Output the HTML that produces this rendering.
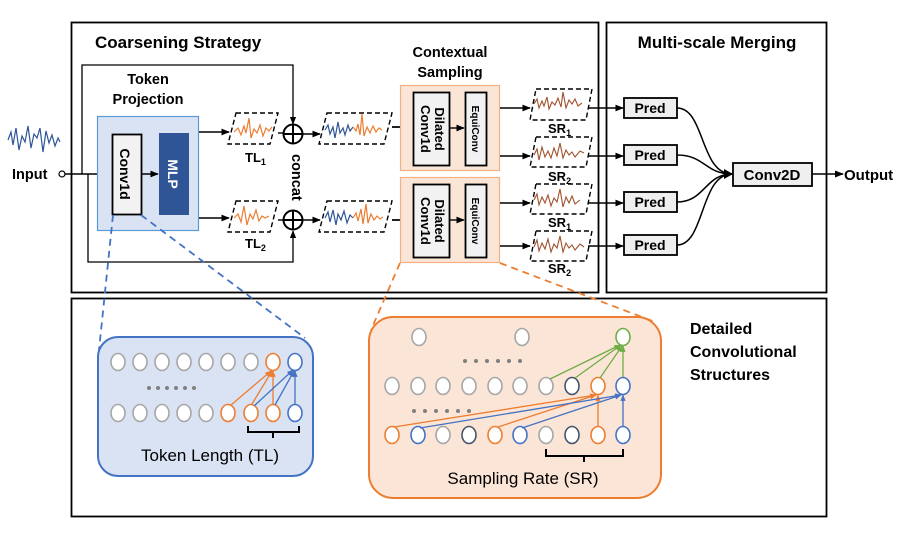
<!DOCTYPE html>
<html><head><meta charset="utf-8"><style>
html,body{margin:0;padding:0;background:#fff}
svg{display:block}
text{font-family:"Liberation Sans",Arial,sans-serif}
</style></head><body>
<svg width="914" height="533" viewBox="0 0 914 533" xmlns="http://www.w3.org/2000/svg">
<defs>
<marker id="a" viewBox="0 0 10 10" refX="9" refY="5" markerWidth="6" markerHeight="6" orient="auto"><path d="M0,1 L10,5 L0,9 z" fill="#000"/></marker>
<marker id="ao" viewBox="0 0 10 10" refX="9" refY="5" markerWidth="5" markerHeight="5" orient="auto"><path d="M0,1 L10,5 L0,9 z" fill="#ed7d31"/></marker>
<marker id="ab" viewBox="0 0 10 10" refX="9" refY="5" markerWidth="5" markerHeight="5" orient="auto"><path d="M0,1 L10,5 L0,9 z" fill="#4472c4"/></marker>
<marker id="ag" viewBox="0 0 10 10" refX="9" refY="5" markerWidth="5" markerHeight="5" orient="auto"><path d="M0,1 L10,5 L0,9 z" fill="#70ad47"/></marker>
</defs>
<!-- outer boxes -->
<rect x="71.5" y="22.5" width="527" height="270" fill="none" stroke="#000" stroke-width="1.8"/>
<rect x="606.5" y="22.5" width="220" height="270" fill="none" stroke="#000" stroke-width="1.8"/>
<rect x="71.5" y="298.5" width="755" height="218" fill="none" stroke="#000" stroke-width="1.8"/>
<text x="95" y="48" font-size="17" font-weight="bold">Coarsening Strategy</text>
<text x="717" y="48" font-size="17" font-weight="bold" text-anchor="middle">Multi-scale Merging</text>
<text x="148" y="84" font-size="14.5" font-weight="bold" text-anchor="middle">Token</text>
<text x="148" y="104" font-size="14.5" font-weight="bold" text-anchor="middle">Projection</text>
<text x="450" y="57" font-size="14.5" font-weight="bold" text-anchor="middle">Contextual</text>
<text x="450" y="77" font-size="14.5" font-weight="bold" text-anchor="middle">Sampling</text>
<!-- input -->
<polyline points="8,140 11,132 13,145 16,128 19,150 22,136 25,142 28,126 31,148 34,134 37,138 40,128 43,152 46,131 49,143 52,135 55,146 58,138 60,142" fill="none" stroke="#2f5597" stroke-width="1.2"/>
<text x="12" y="179" font-size="14.5" font-weight="bold">Input</text>
<circle cx="62" cy="174" r="3" fill="#fff" stroke="#000" stroke-width="1.2"/>
<line x1="65" y1="174" x2="111" y2="174" stroke="#000" stroke-width="1.5" marker-end="url(#a)"/>
<polyline points="82,174 82,65 293,65 293,124" fill="none" stroke="#000" stroke-width="1.3" marker-end="url(#a)"/>
<polyline points="88,174 88,262 293,262 293,231" fill="none" stroke="#000" stroke-width="1.3" marker-end="url(#a)"/>
<!-- token projection -->
<rect x="97.5" y="116.5" width="101" height="114" fill="#dae3f3" stroke="#5b9bd5" stroke-width="1.2"/>
<rect x="112.5" y="134.5" width="29" height="80" fill="#f2f2f2" stroke="#000" stroke-width="1.8"/>
<text transform="translate(120,174) rotate(90)" font-size="14" font-weight="bold" text-anchor="middle">Conv1d</text>
<rect x="159" y="133" width="30" height="82" fill="#2f5597"/>
<text transform="translate(168,174) rotate(90)" font-size="14" font-weight="bold" text-anchor="middle" fill="#fff">MLP</text>
<line x1="141" y1="174" x2="158" y2="174" stroke="#000" stroke-width="1.4" marker-end="url(#a)"/>
<line x1="199" y1="132" x2="229" y2="132" stroke="#000" stroke-width="1.4" marker-end="url(#a)"/>
<line x1="199" y1="218" x2="229" y2="218" stroke="#000" stroke-width="1.4" marker-end="url(#a)"/>
<!-- TL paras -->
<polygon points="236,113 278,113 270,144 228,144" fill="none" stroke="#000" stroke-width="1.4" stroke-dasharray="5,3"/>
<polyline points="234,132 238,128 241,135 244,126 246,133 249,118 251,138 254,129 257,133 260,125 263,136 266,128 269,131 272,127" fill="none" stroke="#ed7d31" stroke-width="1.2"/>
<polygon points="236,201 278,201 270,232 228,232" fill="none" stroke="#000" stroke-width="1.4" stroke-dasharray="5,3"/>
<polyline points="234,218 238,214 241,222 244,206 247,225 250,214 253,219 256,210 259,221 262,216 265,218 269,216" fill="none" stroke="#ed7d31" stroke-width="1.2"/>
<text x="245" y="162" font-size="13" font-weight="bold">TL<tspan font-size="9" dy="3">1</tspan></text>
<text x="245" y="248" font-size="13" font-weight="bold">TL<tspan font-size="9" dy="3">2</tspan></text>
<line x1="278" y1="133" x2="283" y2="133" stroke="#000" stroke-width="1.4"/>
<line x1="278" y1="220" x2="283" y2="220" stroke="#000" stroke-width="1.4"/>
<g stroke="#000" stroke-width="2" fill="#fff">
<circle cx="293" cy="134" r="9.5"/><path d="M283.5,134 H302.5 M293,124.5 V143.5"/>
<circle cx="293" cy="220" r="9.5"/><path d="M283.5,220 H302.5 M293,210.5 V229.5"/>
</g>
<text transform="translate(292,154) rotate(90)" font-size="14.5" font-weight="bold">concat</text>
<line x1="303" y1="134" x2="320" y2="134" stroke="#000" stroke-width="1.4" marker-end="url(#a)"/>
<line x1="303" y1="220" x2="320" y2="220" stroke="#000" stroke-width="1.4" marker-end="url(#a)"/>
<polygon points="327,113 392,113 384,144 319,144" fill="none" stroke="#000" stroke-width="1.4" stroke-dasharray="5,3"/>
<polyline points="325,130 328,125 330,134 333,127 335,138 338,122 340,133 343,128 345,135 348,125 350,131 353,127" fill="none" stroke="#2f5597" stroke-width="1.2"/>
<polyline points="353,127 356,131 358,124 360,135 362,114 364,136 367,127 370,133 373,126 376,132 379,128 382,130" fill="none" stroke="#ed7d31" stroke-width="1.2"/>
<polygon points="327,201 392,201 384,232 319,232" fill="none" stroke="#000" stroke-width="1.4" stroke-dasharray="5,3"/>
<polyline points="325,218 328,212 330,222 333,210 336,225 338,214 341,220 344,211 347,223 350,215 353,218" fill="none" stroke="#2f5597" stroke-width="1.2"/>
<polyline points="353,218 356,213 358,221 361,209 363,224 366,204 368,223 371,214 374,220 377,216 380,219 383,217" fill="none" stroke="#ed7d31" stroke-width="1.2"/>
<line x1="392" y1="127" x2="413" y2="127" stroke="#000" stroke-width="1.8" marker-end="url(#a)"/>
<line x1="392" y1="220" x2="413" y2="220" stroke="#000" stroke-width="1.8" marker-end="url(#a)"/>
<!-- contextual sampling -->
<g>
<rect x="400.5" y="85.5" width="99" height="85" fill="#fbe5d6" stroke="#f4b183" stroke-width="1.2"/>
<rect x="413.5" y="92.5" width="36" height="73" fill="#f2f2f2" stroke="#000" stroke-width="1.8"/>
<text transform="translate(435,129) rotate(90)" font-size="13" font-weight="bold" text-anchor="middle">Dilated</text>
<text transform="translate(421,129) rotate(90)" font-size="13" font-weight="bold" text-anchor="middle">Conv1d</text>
<rect x="465.5" y="92.5" width="21" height="73" fill="#f2f2f2" stroke="#000" stroke-width="1.8"/>
<text transform="translate(472,129) rotate(90)" font-size="10" font-weight="bold" text-anchor="middle">EquiConv</text>
<line x1="450" y1="128" x2="464" y2="128" stroke="#000" stroke-width="1.4" marker-end="url(#a)"/>
</g>
<g>
<rect x="400.5" y="177.5" width="99" height="85" fill="#fbe5d6" stroke="#f4b183" stroke-width="1.2"/>
<rect x="413.5" y="184.5" width="36" height="73" fill="#f2f2f2" stroke="#000" stroke-width="1.8"/>
<text transform="translate(435,221) rotate(90)" font-size="13" font-weight="bold" text-anchor="middle">Dilated</text>
<text transform="translate(421,221) rotate(90)" font-size="13" font-weight="bold" text-anchor="middle">Conv1d</text>
<rect x="465.5" y="184.5" width="21" height="73" fill="#f2f2f2" stroke="#000" stroke-width="1.8"/>
<text transform="translate(472,221) rotate(90)" font-size="10" font-weight="bold" text-anchor="middle">EquiConv</text>
<line x1="450" y1="220" x2="464" y2="220" stroke="#000" stroke-width="1.4" marker-end="url(#a)"/>
</g>
<!-- SR -->
<g stroke="#000" stroke-width="1.4">
<line x1="500" y1="108" x2="530" y2="108" marker-end="url(#a)"/>
<line x1="500" y1="156" x2="530" y2="156" marker-end="url(#a)"/>
<line x1="500" y1="203" x2="530" y2="203" marker-end="url(#a)"/>
<line x1="500" y1="246" x2="530" y2="246" marker-end="url(#a)"/>
<line x1="588" y1="108" x2="623" y2="108" marker-end="url(#a)"/>
<line x1="588" y1="156" x2="623" y2="156" marker-end="url(#a)"/>
<line x1="588" y1="203" x2="623" y2="203" marker-end="url(#a)"/>
<line x1="588" y1="246" x2="623" y2="246" marker-end="url(#a)"/>
</g>
<g fill="none" stroke="#000" stroke-width="1.4" stroke-dasharray="5,3">
<polygon points="536,89 592,89 586,120 530,120"/>
<polygon points="536,137 592,137 586,167 530,167"/>
<polygon points="536,184 592,184 586,214 530,214"/>
<polygon points="536,231 592,231 586,261 530,261"/>
</g>
<g fill="none" stroke="#a0522d" stroke-width="1.1">
<polyline points="534,104 537,99 539,108 542,101 544,106 547,97 549,109 552,102 555,105 558,98 561,107 563,92 566,108 569,100 572,104 575,99 578,106 582,103"/>
<polyline points="534,155 537,149 539,160 542,147 545,157 548,151 551,158 554,148 557,156 560,143 563,158 566,150 569,155 572,152 575,157 580,151 584,153"/>
<polyline points="534,200 537,194 539,205 542,197 545,203 548,195 551,206 554,198 557,202 560,189 563,207 566,197 569,203 572,196 575,204 580,200"/>
<polyline points="534,247 537,240 539,251 542,243 545,249 548,239 551,252 554,244 557,248 560,236 563,252 566,243 569,248 572,245 575,250 580,244 584,247"/>
</g>
<g font-size="13" font-weight="bold">
<text x="548" y="133">SR<tspan font-size="9" dy="3">1</tspan></text>
<text x="548" y="181">SR<tspan font-size="9" dy="3">2</tspan></text>
<text x="548" y="227">SR<tspan font-size="9" dy="3">1</tspan></text>
<text x="548" y="273">SR<tspan font-size="9" dy="3">2</tspan></text>
</g>
<!-- Pred -->
<g fill="#efefef" stroke="#000" stroke-width="1.8">
<rect x="624" y="98" width="53" height="20"/>
<rect x="624" y="145" width="53" height="20"/>
<rect x="624" y="192" width="53" height="20"/>
<rect x="624" y="235" width="53" height="20"/>
<rect x="733" y="163" width="79" height="23"/>
</g>
<g font-size="14" font-weight="bold" text-anchor="middle">
<text x="650" y="113">Pred</text><text x="650" y="160">Pred</text><text x="650" y="207">Pred</text><text x="650" y="250">Pred</text>
<text x="772" y="180" font-size="15">Conv2D</text>
</g>
<g fill="none" stroke="#000" stroke-width="1.5">
<path d="M677,108 C705,108 700,174 732,174"/>
<path d="M677,155 C705,155 705,174 732,174"/>
<path d="M677,202 C705,202 705,174 732,174"/>
<path d="M677,245 C705,245 700,174 732,174"/>
</g>
<path d="M733,174 L724,169 L724,179 z" fill="#000"/>
<line x1="812" y1="174" x2="843" y2="174" stroke="#000" stroke-width="1.5" marker-end="url(#a)"/>
<text x="844" y="180" font-size="15" font-weight="bold">Output</text>
<!-- dashed zoom connectors -->
<g fill="none" stroke-width="1.8" stroke-dasharray="7,5">
<line x1="113" y1="215" x2="99" y2="350" stroke="#4472c4"/>
<line x1="141" y1="215" x2="305" y2="338" stroke="#4472c4"/>
<line x1="400" y1="263" x2="371" y2="330" stroke="#ed7d31"/>
<line x1="500" y1="263" x2="655" y2="322" stroke="#ed7d31"/>
</g>
<!-- blue detail -->
<rect x="98" y="337" width="215" height="139" rx="20" fill="#dae3f3" stroke="#4472c4" stroke-width="2"/>
<g fill="#fff" stroke-width="1.6">
<g stroke="#a6a6a6">
<ellipse cx="118" cy="362" rx="7" ry="8.5"/><ellipse cx="140" cy="362" rx="7" ry="8.5"/><ellipse cx="162" cy="362" rx="7" ry="8.5"/><ellipse cx="184" cy="362" rx="7" ry="8.5"/><ellipse cx="206" cy="362" rx="7" ry="8.5"/><ellipse cx="228" cy="362" rx="7" ry="8.5"/><ellipse cx="251" cy="362" rx="7" ry="8.5"/>
<ellipse cx="118" cy="413" rx="7" ry="8.5"/><ellipse cx="140" cy="413" rx="7" ry="8.5"/><ellipse cx="162" cy="413" rx="7" ry="8.5"/><ellipse cx="184" cy="413" rx="7" ry="8.5"/><ellipse cx="206" cy="413" rx="7" ry="8.5"/>
</g>
<g stroke="#ed7d31"><ellipse cx="273" cy="362" rx="7" ry="8.5"/><ellipse cx="228" cy="413" rx="7" ry="8.5"/><ellipse cx="251" cy="413" rx="7" ry="8.5"/><ellipse cx="273" cy="413" rx="7" ry="8.5"/></g>
<g stroke="#4472c4"><ellipse cx="295" cy="362" rx="7" ry="8.5"/><ellipse cx="295" cy="413" rx="7" ry="8.5"/></g>
</g>
<g fill="#808080"><circle cx="149" cy="388" r="2"/><circle cx="158" cy="388" r="2"/><circle cx="167" cy="388" r="2"/><circle cx="176" cy="388" r="2"/><circle cx="185" cy="388" r="2"/><circle cx="194" cy="388" r="2"/></g>
<g stroke-width="1.3" fill="none">
<line x1="231" y1="405" x2="271" y2="371" stroke="#ed7d31" marker-end="url(#ao)"/>
<line x1="252" y1="404" x2="272" y2="371" stroke="#ed7d31" marker-end="url(#ao)"/>
<line x1="273" y1="404" x2="273" y2="371" stroke="#ed7d31" marker-end="url(#ao)"/>
<line x1="254" y1="406" x2="293" y2="370" stroke="#4472c4" marker-end="url(#ab)"/>
<line x1="275" y1="405" x2="294" y2="371" stroke="#4472c4" marker-end="url(#ab)"/>
<line x1="295" y1="404" x2="295" y2="371" stroke="#4472c4" marker-end="url(#ab)"/>
</g>
<path d="M248,426 V432 H299 V426 M273,432 V438" fill="none" stroke="#000" stroke-width="2"/>
<text x="210" y="461" font-size="17" text-anchor="middle">Token Length (TL)</text>
<!-- orange detail -->
<rect x="369" y="317" width="292" height="181" rx="24" fill="#fbe5d6" stroke="#ed7d31" stroke-width="2"/>
<g fill="#fff" stroke-width="1.6">
<g stroke="#a6a6a6">
<ellipse cx="419" cy="337" rx="7" ry="8.5"/><ellipse cx="522" cy="337" rx="7" ry="8.5"/>
<ellipse cx="392" cy="386" rx="7" ry="8.5"/><ellipse cx="418" cy="386" rx="7" ry="8.5"/><ellipse cx="443" cy="386" rx="7" ry="8.5"/><ellipse cx="469" cy="386" rx="7" ry="8.5"/><ellipse cx="495" cy="386" rx="7" ry="8.5"/><ellipse cx="520" cy="386" rx="7" ry="8.5"/><ellipse cx="546" cy="386" rx="7" ry="8.5"/>
<ellipse cx="443" cy="435" rx="7" ry="8.5"/><ellipse cx="546" cy="435" rx="7" ry="8.5"/>
</g>
<g stroke="#44546a"><ellipse cx="572" cy="386" rx="7" ry="8.5"/><ellipse cx="469" cy="435" rx="7" ry="8.5"/><ellipse cx="572" cy="435" rx="7" ry="8.5"/></g>
<g stroke="#ed7d31"><ellipse cx="598" cy="386" rx="7" ry="8.5"/><ellipse cx="392" cy="435" rx="7" ry="8.5"/><ellipse cx="495" cy="435" rx="7" ry="8.5"/><ellipse cx="598" cy="435" rx="7" ry="8.5"/></g>
<g stroke="#4472c4"><ellipse cx="623" cy="386" rx="7" ry="8.5"/><ellipse cx="418" cy="435" rx="7" ry="8.5"/><ellipse cx="520" cy="435" rx="7" ry="8.5"/><ellipse cx="623" cy="435" rx="7" ry="8.5"/></g>
<ellipse cx="623" cy="337" rx="7" ry="8.5" stroke="#70ad47"/>
</g>
<g fill="#808080"><circle cx="465" cy="361" r="2"/><circle cx="476" cy="361" r="2"/><circle cx="487" cy="361" r="2"/><circle cx="498" cy="361" r="2"/><circle cx="509" cy="361" r="2"/><circle cx="520" cy="361" r="2"/>
<circle cx="414" cy="411" r="2"/><circle cx="425" cy="411" r="2"/><circle cx="436" cy="411" r="2"/><circle cx="447" cy="411" r="2"/><circle cx="458" cy="411" r="2"/><circle cx="469" cy="411" r="2"/></g>
<g stroke-width="1.3" fill="none">
<line x1="550" y1="379" x2="620" y2="345" stroke="#70ad47" marker-end="url(#ag)"/>
<line x1="575" y1="378" x2="621" y2="345" stroke="#70ad47" marker-end="url(#ag)"/>
<line x1="600" y1="378" x2="622" y2="346" stroke="#70ad47" marker-end="url(#ag)"/>
<line x1="623" y1="377" x2="623" y2="346" stroke="#70ad47" marker-end="url(#ag)"/>
<line x1="394" y1="427" x2="596" y2="395" stroke="#ed7d31" marker-end="url(#ao)"/>
<line x1="498" y1="427" x2="596" y2="395" stroke="#ed7d31" marker-end="url(#ao)"/>
<line x1="598" y1="426" x2="598" y2="395" stroke="#ed7d31" marker-end="url(#ao)"/>
<line x1="420" y1="428" x2="621" y2="395" stroke="#4472c4" marker-end="url(#ab)"/>
<line x1="522" y1="428" x2="621" y2="395" stroke="#4472c4" marker-end="url(#ab)"/>
<line x1="623" y1="426" x2="623" y2="395" stroke="#4472c4" marker-end="url(#ab)"/>
</g>
<path d="M546,449 V456 H623 V449 M584,456 V462" fill="none" stroke="#000" stroke-width="2"/>
<text x="523" y="484" font-size="17" text-anchor="middle">Sampling Rate (SR)</text>
<g font-size="16" font-weight="bold">
<text x="690" y="334">Detailed</text><text x="690" y="357">Convolutional</text><text x="690" y="380">Structures</text>
</g>
</svg>
</body></html>
